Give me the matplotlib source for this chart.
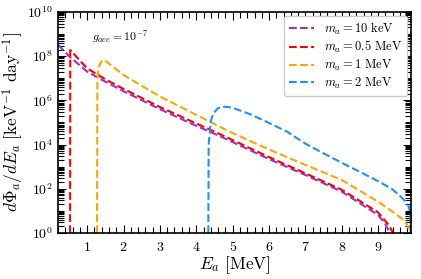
import matplotlib
matplotlib.use("Agg")
import matplotlib.pyplot as plt
from matplotlib.ticker import FixedLocator, FuncFormatter, NullFormatter
import numpy as np

plt.rcParams['mathtext.fontset'] = 'cm'
plt.rcParams['font.family'] = ['DejaVu Serif']

# ---- data (E in MeV, flux in keV^-1 day^-1) ----
E_10keV = [0.2, 0.5, 1.0, 1.5, 2.0, 3.0, 4.0, 4.35, 5.0, 6.0, 7.0, 8.0, 9.0, 9.2, 9.32]
F_10keV = [3.3e8, 1.0e8, 2.0e7, 7.0e6, 2.6e6, 4.0e5, 7.0e4, 4.0e4, 1.3e4, 2.2e3, 4.2e2, 7.4e1, 6.5, 2.5, 1.0]

E_05MeV = [0.53, 0.535, 1.0, 1.5, 2.0, 3.0, 4.0, 4.35, 5.0, 6.0, 7.0, 8.0, 9.0, 9.3, 9.41]
F_05MeV = [1.0, 1.9e8, 2.8e7, 9.0e6, 3.3e6, 5.0e5, 9.0e4, 5.0e4, 1.6e4, 2.7e3, 5.0e2, 9.0e1, 8.5, 2.2, 1.0]

E_1MeV = [1.27, 1.28, 1.32, 1.40, 1.47, 2.0, 3.0, 4.0, 5.0, 6.0, 7.0, 8.0, 9.0, 9.4, 9.7, 9.82, 9.87]
F_1MeV = [1.0, 1.0e7, 3.5e7, 6.0e7, 6.8e7, 1.4e7, 1.5e6, 2.2e5, 3.3e4, 6.0e3, 1.2e3, 2.5e2, 2.6e1, 9.0, 3.9, 2.0, 1.0]

E_2MeV = [4.33, 4.34, 4.40, 4.47, 4.6, 4.8, 5.0, 5.5, 6.0, 6.5, 7.0, 7.5, 8.0, 8.5, 9.0, 9.37, 9.6, 9.75, 9.84, 9.88, 9.895]
F_2MeV = [1.0, 1.0e4, 1.2e5, 2.6e5, 4.5e5, 5.2e5, 4.6e5, 2.3e5, 9.5e4, 3.8e4, 1.1e4, 4.0e3, 1.5e3, 5.8e2, 2.2e2, 1.0e2, 4.8e1, 2.6e1, 1.6e1, 8.0, 1.0]

labels = [r'$m_a = 10\ \mathrm{keV}$', r'$m_a = 0.5\ \mathrm{MeV}$',
          r'$m_a = 1\ \mathrm{MeV}$', r'$m_a = 2\ \mathrm{MeV}$']
colors = ['darkorchid', 'red', 'orange', 'dodgerblue']

x_major = [1, 2, 3, 4, 5, 6, 7, 8, 9]
y_major_exp = [0, 2, 4, 6, 8, 10]

fig = plt.figure(figsize=(4.21, 2.79), dpi=100)
ax = fig.add_axes([0.138, 0.165, 0.838, 0.792])

series = [(E_10keV, F_10keV), (E_05MeV, F_05MeV), (E_1MeV, F_1MeV), (E_2MeV, F_2MeV)]
for (e, f), c, lab in zip(series, colors, labels):
    ax.plot(e, f, ls='--', color=c, lw=1.5, label=lab)

ax.set_yscale('log')
ax.set_xlim(0.2, 9.9)
ax.set_ylim(1, 1e10)

ax.xaxis.set_major_locator(FixedLocator(x_major))
ax.xaxis.set_minor_locator(FixedLocator(np.arange(0.2, 9.95, 0.2)))
ax.xaxis.set_major_formatter(FuncFormatter(lambda v, p: r'$%d$' % round(v)))

ymaj = [10.0 ** k for k in y_major_exp]
ax.yaxis.set_major_locator(FixedLocator(ymaj))
ymin = [s * 10.0 ** k for k in range(0, 10) for s in range(2, 10)] + [10.0 ** k for k in range(1, 10, 2)]
ax.yaxis.set_minor_locator(FixedLocator(ymin))
ax.yaxis.set_major_formatter(FuncFormatter(lambda v, p: r'$10^{%d}$' % round(np.log10(v))))
ax.yaxis.set_minor_formatter(NullFormatter())

ax.tick_params(which='both', direction='in', top=True, right=True, labelsize=10, width=0.8)
ax.tick_params(which='major', length=6)
ax.tick_params(which='minor', length=4)
ax.tick_params(axis='x', which='major', pad=5)
for s in ax.spines.values():
    s.set_linewidth(1.2)

ax.set_xlabel(r'$E_a\ [\mathrm{MeV}]$', fontsize=12.5, labelpad=0)
ax.set_ylabel(r'$d\Phi_a/dE_a\ [\mathrm{keV}^{-1}\ \mathrm{day}^{-1}]$', fontsize=12.5, labelpad=1)

ax.text(0.096, 0.89, r'$g_{aee} = 10^{-7}$', transform=ax.transAxes, fontsize=8.5, va='center', ha='left')

ax.legend(loc='upper right', fontsize=9, borderaxespad=0.3, handlelength=2.0,
          labelspacing=0.2, borderpad=0.4, framealpha=1)

fig.savefig('out.png', dpi=100)
